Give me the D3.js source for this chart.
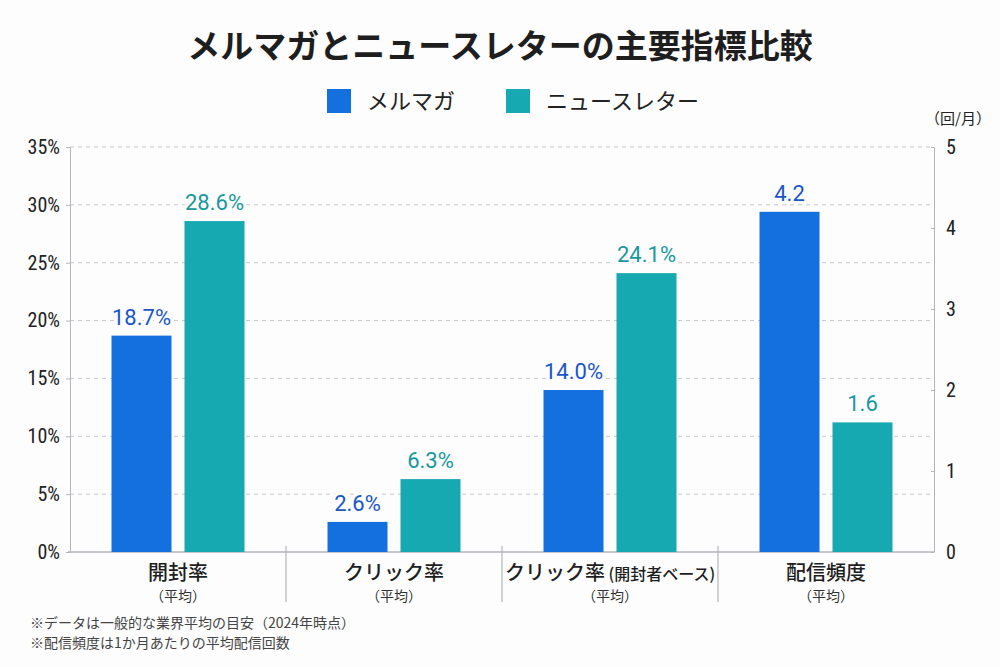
<!DOCTYPE html>
<html lang="ja">
<head>
<meta charset="utf-8">
<script src="https://cdn.jsdelivr.net/npm/d3@7"></script>
<style>
  body { margin: 0; background: #fdfdfd; }
  svg { font-family: "Noto Sans CJK JP", "Noto Sans", sans-serif; }
</style>
</head>
<body>
<div id="chart"></div>
<script>
// chart data
const categories = ["開封率", "クリック率", "クリック率", "配信頻度"];
const categoryNotes = ["", "", " (開封者ベース)", ""];
const subLabels = ["（平均）", "（平均）", "（平均）", "（平均）"];
const seriesNames = ["メルマガ", "ニュースレター"];
const mailMagazine = [18.7, 2.6, 14.0, 4.2];
const newsletter = [28.6, 6.3, 24.1, 1.6];
const valueLabels = [["18.7%", "2.6%", "14.0%", "4.2"], ["28.6%", "6.3%", "24.1%", "1.6"]];
const onRightAxis = [false, false, false, true];
const leftTicks = [0, 5, 10, 15, 20, 25, 30, 35];
const rightTicks = [0, 1, 2, 3, 4, 5];
const notes = ["※データは一般的な業界平均の目安（2024年時点）", "※配信頻度は1か月あたりの平均配信回数"];

const w = 1000, h = 667;
const plotLeft = 70, plotRight = 934, plotTop = 147, plotBottom = 552;
const colors = ["#1470de", "#17a9b2"];
const textColors = ["#1a56c8", "#17989e"];
const numFont = "'Liberation Sans Narrow', 'Roboto Condensed', Roboto, sans-serif";

const svg = d3.select("#chart").append("svg")
  .attr("width", w).attr("height", h);

svg.append("rect").attr("width", w).attr("height", h).attr("fill", "#fdfdfd");

// title
svg.append("text")
  .attr("x", 500).attr("y", 58)
  .attr("text-anchor", "middle")
  .attr("font-size", 33).attr("font-weight", 700)
  .attr("fill", "#1e1e1e")
  .text("メルマガとニュースレターの主要指標比較");

// legend
const legendX = [327, 506];
seriesNames.forEach((name, i) => {
  svg.append("rect")
    .attr("x", legendX[i]).attr("y", 89)
    .attr("width", 24).attr("height", 24)
    .attr("fill", colors[i]);
  svg.append("text")
    .attr("x", legendX[i] + 40).attr("y", 109)
    .attr("font-size", 22).attr("fill", "#222")
    .text(name);
});

const x0 = d3.scaleBand().domain(d3.range(categories.length)).range([plotLeft, plotRight]);
const yLeft = d3.scaleLinear().domain([0, 35]).range([plotBottom, plotTop]);
const yRight = d3.scaleLinear().domain([0, 5]).range([plotBottom, plotTop]);

// grid
svg.append("g").selectAll("line")
  .data(leftTicks.slice(1))
  .enter().append("line")
  .attr("x1", plotLeft).attr("x2", plotRight)
  .attr("y1", d => yLeft(d)).attr("y2", d => yLeft(d))
  .attr("stroke", "#c8c8cc").attr("stroke-dasharray", "4,4");

// left axis
const yAxisL = d3.axisLeft(yLeft).tickValues(leftTicks).tickSize(4).tickPadding(6).tickFormat(d => d + "%");
const gL = svg.append("g").attr("transform", "translate(" + plotLeft + ",0)").call(yAxisL);
gL.select(".domain").attr("stroke", "#b4b4bc");
gL.selectAll(".tick line").attr("stroke", "#b4b4bc");
gL.selectAll(".tick text").attr("font-size", 20).attr("font-weight", 400).attr("fill", "#222")
  .attr("font-family", numFont);

// right axis
const yAxisR = d3.axisRight(yRight).tickValues(rightTicks).tickSize(0).tickPadding(12).tickFormat(d3.format("d"));
const gR = svg.append("g").attr("transform", "translate(" + plotRight + ",0)").call(yAxisR);
gR.select(".domain").attr("stroke", "#b4b4bc");
gR.selectAll(".tick text").attr("font-size", 20).attr("font-weight", 400).attr("fill", "#222")
  .attr("font-family", numFont);
gR.selectAll(".tick").append("line").attr("x1", -3).attr("x2", 0).attr("stroke", "#b4b4bc");
svg.append("text")
  .attr("x", 958).attr("y", 124)
  .attr("text-anchor", "middle").attr("font-size", 15).attr("fill", "#222")
  .text("（回/月）");

// baseline and separators
svg.append("line")
  .attr("x1", plotLeft - 2).attr("x2", plotRight)
  .attr("y1", plotBottom).attr("y2", plotBottom)
  .attr("stroke", "#b4b4bc").attr("stroke-width", 1.5);
svg.append("g").selectAll("line")
  .data(d3.range(1, categories.length))
  .enter().append("line")
  .attr("x1", d => x0(d)).attr("x2", d => x0(d))
  .attr("y1", plotBottom - 6).attr("y2", 602)
  .attr("stroke", "#b4b4bc").attr("stroke-width", 1.2);

// bars
const barW = 60, gap = 13;
[mailMagazine, newsletter].forEach((vals, s) => {
  const g = svg.append("g");
  g.selectAll("rect")
    .data(vals)
    .enter().append("rect")
    .attr("x", (d, i) => x0(i) + x0.bandwidth() / 2 + (s === 0 ? -gap / 2 - barW : gap / 2))
    .attr("y", (d, i) => (onRightAxis[i] ? yRight(d) : yLeft(d)))
    .attr("width", barW)
    .attr("height", (d, i) => plotBottom - (onRightAxis[i] ? yRight(d) : yLeft(d)))
    .attr("fill", colors[s]);
  g.selectAll("text")
    .data(vals)
    .enter().append("text")
    .attr("x", (d, i) => x0(i) + x0.bandwidth() / 2 + (s === 0 ? -gap / 2 - barW / 2 : gap / 2 + barW / 2))
    .attr("y", (d, i) => (onRightAxis[i] ? yRight(d) : yLeft(d)) - 11)
    .attr("text-anchor", "middle")
    .attr("font-size", 22).attr("font-weight", 400)
    .attr("font-family", "Roboto, sans-serif")
    .attr("fill", textColors[s])
    .attr("stroke", "#fdfdfd").attr("stroke-width", 6).attr("paint-order", "stroke")
    .text((d, i) => valueLabels[s][i]);
});

// category labels
categories.forEach((c, i) => {
  const cx = x0(i) + x0.bandwidth() / 2;
  const t = svg.append("text")
    .attr("x", cx).attr("y", 580)
    .attr("text-anchor", "middle")
    .attr("font-size", 20).attr("font-weight", 500).attr("fill", "#1e1e1e");
  t.append("tspan").text(c);
  if (categoryNotes[i]) t.append("tspan").attr("font-size", 16).text(categoryNotes[i]);
  svg.append("text")
    .attr("x", cx).attr("y", 601)
    .attr("text-anchor", "middle")
    .attr("font-size", 14).attr("fill", "#333")
    .text(subLabels[i]);
});

// footnotes
svg.append("g").selectAll("text")
  .data(notes)
  .enter().append("text")
  .attr("x", 30).attr("y", (d, i) => 628 + i * 20)
  .attr("font-size", 14).attr("fill", "#444")
  .text(d => d);
</script>
</body>
</html>
